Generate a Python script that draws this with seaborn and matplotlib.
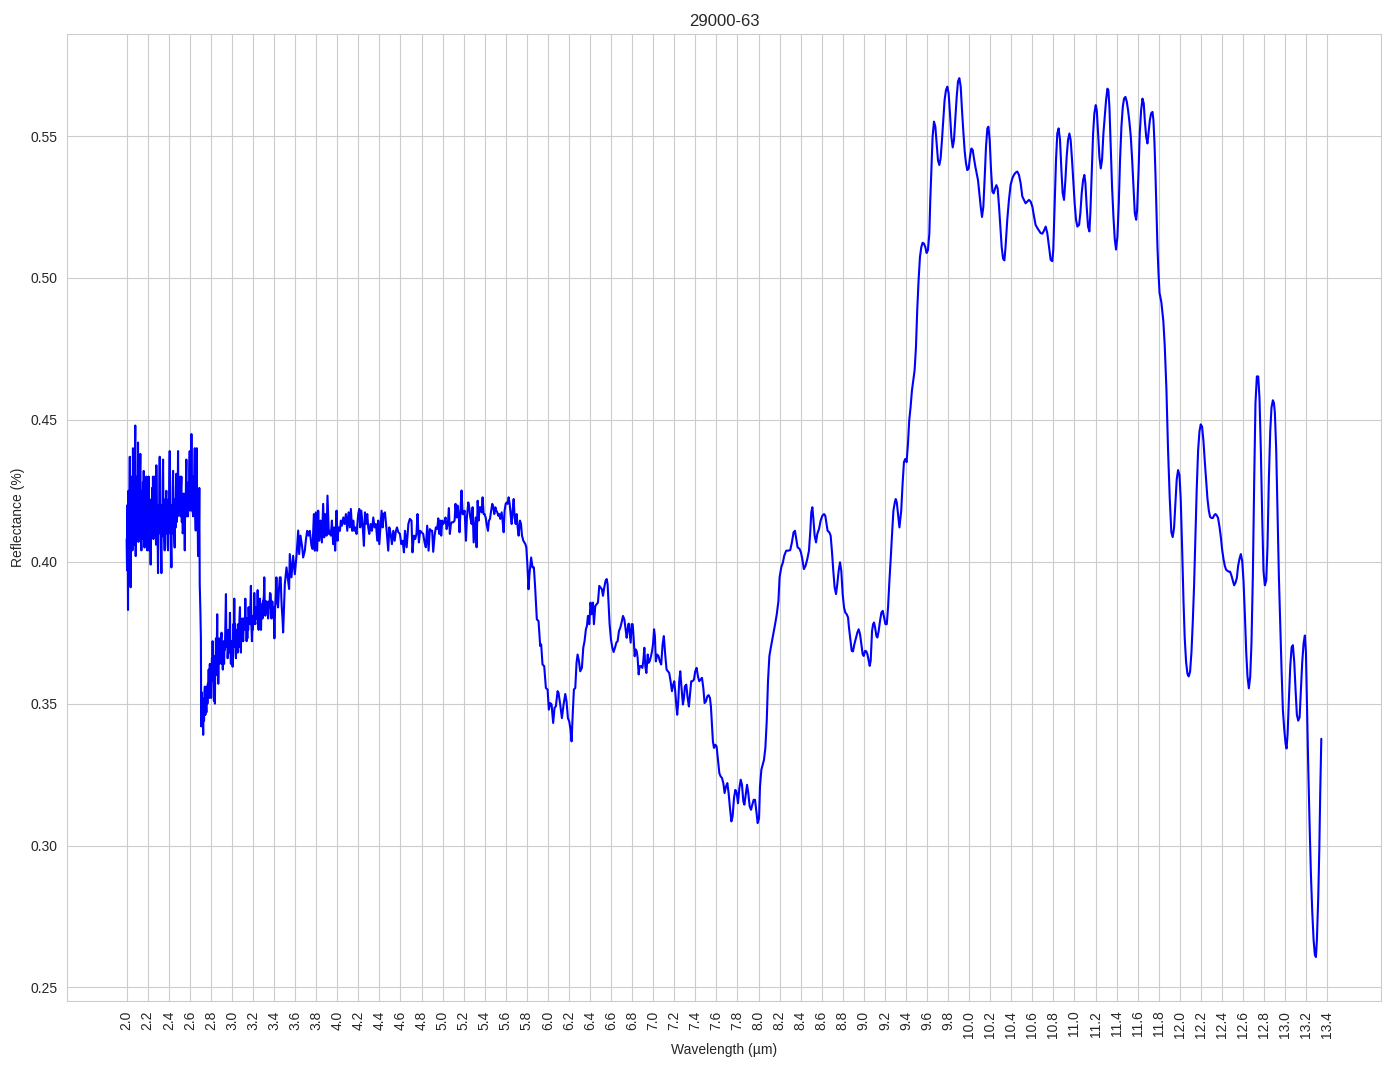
import numpy as np
import pandas as pd
import matplotlib
matplotlib.use("Agg")
import matplotlib.pyplot as plt
import seaborn as sns

# Spectrum 29000-63 in segments
# 2.0 - 2.7 um (noisy)
wl_a = [2.000, 2.004, 2.008, 2.013, 2.017, 2.021, 2.025, 2.030, 2.034, 2.038,
        2.042, 2.046, 2.050, 2.055, 2.060, 2.064, 2.068, 2.072, 2.077, 2.082,
        2.086, 2.090, 2.095, 2.100, 2.104, 2.108, 2.112, 2.117, 2.121, 2.126,
        2.130, 2.135, 2.140, 2.145, 2.150, 2.155, 2.159, 2.162, 2.166, 2.170,
        2.175, 2.180, 2.184, 2.187, 2.191, 2.196, 2.200, 2.205, 2.209, 2.214,
        2.219, 2.224, 2.228, 2.233, 2.237, 2.242, 2.246, 2.250, 2.254, 2.258,
        2.262, 2.266, 2.270, 2.275, 2.279, 2.282, 2.287, 2.291, 2.295, 2.298,
        2.303, 2.307, 2.311, 2.314, 2.318, 2.322, 2.326, 2.330, 2.334, 2.338,
        2.342, 2.346, 2.350, 2.354, 2.358, 2.361, 2.366, 2.370, 2.374, 2.377,
        2.381, 2.385, 2.389, 2.393, 2.397, 2.401, 2.405, 2.409, 2.413, 2.417,
        2.421, 2.425, 2.429, 2.433, 2.437, 2.441, 2.445, 2.449, 2.453, 2.456,
        2.460, 2.464, 2.468, 2.472, 2.476, 2.480, 2.484, 2.488, 2.492, 2.496,
        2.500, 2.504, 2.508, 2.512, 2.516, 2.520, 2.524, 2.528, 2.532, 2.536,
        2.540, 2.544, 2.548, 2.552, 2.556, 2.560, 2.564, 2.567, 2.571, 2.575,
        2.579, 2.583, 2.587, 2.591, 2.595, 2.599, 2.603, 2.607, 2.611, 2.615,
        2.619, 2.623, 2.627, 2.631, 2.635, 2.639, 2.643, 2.647, 2.651, 2.656,
        2.660, 2.663, 2.666, 2.669, 2.672, 2.675, 2.678, 2.682, 2.686, 2.690,
        2.694, 2.700, 2.705]
refl_a = [.408, .397, .420, .383, .425, .400, .418, .437, .405, .391,
          .430, .410, .428, .404, .440, .412, .426, .406, .432, .448,
          .402, .424, .410, .430, .412, .442, .407, .426, .409, .430,
          .438, .412, .404, .425, .408, .428, .410, .432, .412, .405,
          .424, .409, .427, .430, .410, .404, .423, .410, .430, .404,
          .420, .412, .399, .422, .410, .426, .412, .430, .408, .424,
          .410, .430, .414, .422, .406, .434, .410, .420, .404, .396,
          .420, .410, .428, .437, .412, .420, .405, .396, .420, .409,
          .428, .436, .412, .422, .408, .404, .420, .410, .422, .425,
          .410, .418, .406, .404, .422, .410, .428, .439, .412, .420,
          .406, .398, .420, .410, .426, .432, .412, .422, .408, .405,
          .420, .412, .426, .431, .414, .424, .416, .439, .418, .428,
          .420, .418, .430, .416, .426, .430, .414, .422, .410, .411,
          .424, .414, .420, .404, .424, .416, .430, .436, .416, .426,
          .418, .416, .428, .418, .432, .439, .420, .430, .418, .445,
          .420, .428, .418, .416, .430, .420, .432, .440, .418, .411,
          .428, .418, .440, .420, .425, .412, .402, .420, .410, .426,
          .392, .383, .373]

# 2.7 - 3.5 um (noisy, after the drop)
wl_b = [2.708, 2.712, 2.716, 2.720, 2.724, 2.727, 2.731, 2.735, 2.739, 2.743,
        2.747, 2.751, 2.755, 2.759, 2.763, 2.767, 2.771, 2.775, 2.779, 2.783,
        2.787, 2.790, 2.794, 2.798, 2.802, 2.806, 2.810, 2.813, 2.816, 2.820,
        2.824, 2.829, 2.833, 2.838, 2.842, 2.845, 2.848, 2.852, 2.856, 2.860,
        2.864, 2.867, 2.870, 2.874, 2.879, 2.883, 2.887, 2.892, 2.896, 2.901,
        2.905, 2.909, 2.913, 2.917, 2.921, 2.925, 2.929, 2.933, 2.938, 2.943,
        2.947, 2.951, 2.955, 2.959, 2.965, 2.969, 2.973, 2.977, 2.981, 2.985,
        2.990, 2.994, 2.998, 3.002, 3.006, 3.009, 3.012, 3.017, 3.022, 3.026,
        3.030, 3.034, 3.038, 3.042, 3.046, 3.050, 3.054, 3.058, 3.063, 3.067,
        3.071, 3.076, 3.080, 3.085, 3.089, 3.093, 3.098, 3.102, 3.107, 3.112,
        3.117, 3.122, 3.127, 3.131, 3.135, 3.139, 3.143, 3.146, 3.150, 3.154,
        3.158, 3.163, 3.167, 3.171, 3.176, 3.180, 3.184, 3.190, 3.194, 3.198,
        3.203, 3.207, 3.212, 3.217, 3.222, 3.226, 3.230, 3.234, 3.239, 3.244,
        3.248, 3.253, 3.257, 3.262, 3.266, 3.271, 3.276, 3.280, 3.285, 3.290,
        3.294, 3.298, 3.303, 3.307, 3.312, 3.317, 3.321, 3.325, 3.329, 3.334,
        3.339, 3.343, 3.348, 3.352, 3.356, 3.361, 3.368, 3.375, 3.383, 3.390,
        3.396, 3.403, 3.410, 3.416, 3.422, 3.430, 3.438, 3.446, 3.454, 3.463,
        3.468, 3.473, 3.480]
refl_b = [.342, .354, .345, .352, .343, .339, .350, .344, .354, .356,
          .346, .352, .347, .347, .356, .350, .357, .354, .362, .352,
          .360, .364, .355, .362, .352, .360, .366, .358, .372, .360,
          .367, .351, .362, .350, .366, .360, .373, .362, .370, .3815,
          .366, .372, .357, .368, .373, .364, .370, .366, .372, .375,
          .364, .370, .362, .367, .372, .364, .370, .369, .378, .3886,
          .370, .376, .374, .366, .370, .376, .368, .374, .382, .370,
          .364, .372, .366, .370, .363, .372, .378, .370, .387, .372,
          .378, .368, .366, .376, .370, .374, .368, .378, .378, .370,
          .380, .384, .372, .368, .378, .372, .380, .374, .372, .380,
          .378, .376, .387, .376, .380, .372, .378, .373, .380, .376,
          .384, .378, .382, .378, .386, .3915, .378, .372, .380, .376,
          .381, .378, .389, .380, .378, .384, .380, .384, .380, .390,
          .380, .376, .384, .380, .387, .380, .376, .384, .385, .380,
          .386, .386, .388, .3945, .384, .381, .386, .383, .386, .382,
          .384, .380, .382, .386, .384, .389, .3886, .380, .386, .3815,
          .384, .373, .384, .388, .3945, .386, .3839, .390, .3945, .3945,
          .388, .3839, .380]

# 3.5 - 5.8 um (plateau)
wl_c = [3.486, 3.502, 3.518, 3.533, 3.543, 3.549, 3.565, 3.581, 3.597, 3.613,
        3.629, 3.638, 3.651, 3.667, 3.676, 3.692, 3.701, 3.714, 3.727, 3.739,
        3.755, 3.765, 3.778, 3.787, 3.797, 3.809, 3.819, 3.828, 3.841, 3.854,
        3.866, 3.876, 3.885, 3.898, 3.907, 3.920, 3.930, 3.939, 3.949, 3.961,
        3.971, 3.980, 3.993, 4.003, 4.012, 4.025, 4.034, 4.044, 4.057, 4.069,
        4.082, 4.095, 4.107, 4.120, 4.129, 4.142, 4.152, 4.161, 4.171, 4.183,
        4.199, 4.209, 4.218, 4.228, 4.240, 4.253, 4.263, 4.272, 4.285, 4.294,
        4.304, 4.316, 4.329, 4.342, 4.354, 4.367, 4.380, 4.389, 4.399, 4.412,
        4.421, 4.431, 4.440, 4.453, 4.469, 4.484, 4.494, 4.507, 4.519, 4.532,
        4.545, 4.557, 4.567, 4.580, 4.595, 4.608, 4.621, 4.633, 4.643, 4.659,
        4.675, 4.689, 4.705, 4.714, 4.727, 4.740, 4.752, 4.762, 4.775, 4.787,
        4.800, 4.816, 4.829, 4.841, 4.854, 4.867, 4.879, 4.892, 4.901, 4.911,
        4.924, 4.936, 4.949, 4.959, 4.968, 4.978, 4.987, 4.997, 5.006, 5.016,
        5.028, 5.038, 5.050, 5.060, 5.069, 5.079, 5.088, 5.101, 5.114, 5.123,
        5.133, 5.142, 5.152, 5.161, 5.171, 5.180, 5.190, 5.199, 5.209, 5.222,
        5.231, 5.244, 5.253, 5.263, 5.276, 5.285, 5.295, 5.304, 5.314, 5.323,
        5.333, 5.342, 5.352, 5.361, 5.371, 5.380, 5.390, 5.399, 5.409, 5.418,
        5.431, 5.440, 5.450, 5.459, 5.472, 5.482, 5.491, 5.501, 5.510, 5.520,
        5.529, 5.539, 5.548, 5.561, 5.570, 5.580, 5.589, 5.599, 5.608, 5.618,
        5.627, 5.637, 5.646, 5.656, 5.665, 5.675, 5.684, 5.694, 5.703, 5.713,
        5.722, 5.735, 5.745, 5.754, 5.767, 5.776, 5.786, 5.795, 5.805]
refl_c = [.3751, .3921, .398, .3933, .3904, .4027, .3945, .4021, .3956, .4021,
          .411, .4027, .4092, .4051, .4015, .4039, .4074, .4109, .4092, .4109,
          .4056, .4045, .4168, .4039, .4174, .4039, .418, .4074, .4145, .4068,
          .4204, .4086, .4168, .4092, .4233, .4098, .4109, .4092, .4145, .4062,
          .4121, .4039, .418, .4074, .4121, .4109, .4145, .4127, .4156, .4133,
          .4168, .4109, .4174, .4121, .4186, .4109, .4145, .4109, .4121, .4098,
          .4168, .4186, .4121, .418, .4133, .4056, .4174, .4133, .4168, .4121,
          .4098, .4133, .4109, .4156, .4121, .4133, .4074, .4145, .4062, .4133,
          .418, .4121, .4168, .4174, .4109, .4039, .4121, .4098, .4062, .4109,
          .4074, .4109, .4121, .4104, .4098, .4062, .4074, .4033, .4109, .4051,
          .4133, .4151, .4145, .4033, .4092, .408, .4098, .4168, .4068, .4109,
          .4104, .4098, .4068, .4051, .4127, .4039, .4115, .4109, .4109, .4035,
          .4092, .4121, .4115, .4153, .4098, .4145, .4092, .4145, .4133, .4139,
          .4156, .4115, .4133, .4189, .4098, .4133, .4139, .4139, .4145, .4204,
          .4156, .4198, .4168, .4104, .4186, .4251, .4168, .4168, .418, .4074,
          .4156, .4209, .4192, .4156, .4133, .4192, .4068, .4109, .4156, .4051,
          .4215, .4145, .4192, .4192, .4174, .4227, .4168, .4168, .4156, .4133,
          .4109, .4145, .4151, .4174, .4204, .4192, .4168, .4192, .418, .4174,
          .4162, .4168, .4151, .4174, .4145, .4104, .418, .4204, .4209, .4204,
          .4227, .4204, .4168, .4133, .418, .4221, .4156, .4133, .4168, .4121,
          .4092, .4145, .4133, .4092, .4074, .4068, .4062, .4051, .3992]

# 5.8 - 8.2 um
wl_d = [5.816, 5.825, 5.841, 5.854, 5.867, 5.879, 5.895, 5.911, 5.927, 5.936,
        5.949, 5.965, 5.981, 5.997, 6.009, 6.022, 6.035, 6.050, 6.063, 6.076,
        6.092, 6.101, 6.117, 6.133, 6.149, 6.165, 6.177, 6.190, 6.203, 6.215,
        6.225, 6.234, 6.247, 6.260, 6.272, 6.282, 6.295, 6.307, 6.323, 6.336,
        6.348, 6.361, 6.371, 6.380, 6.393, 6.405, 6.415, 6.428, 6.437, 6.450,
        6.463, 6.475, 6.488, 6.501, 6.513, 6.523, 6.535, 6.548, 6.558, 6.567,
        6.577, 6.586, 6.599, 6.612, 6.624, 6.637, 6.650, 6.662, 6.675, 6.688,
        6.703, 6.713, 6.726, 6.738, 6.748, 6.757, 6.767, 6.776, 6.786, 6.795,
        6.805, 6.814, 6.824, 6.833, 6.843, 6.852, 6.862, 6.871, 6.884, 6.897,
        6.906, 6.916, 6.925, 6.935, 6.948, 6.957, 6.967, 6.976, 6.989, 6.998,
        7.008, 7.016, 7.025, 7.038, 7.051, 7.063, 7.076, 7.089, 7.101, 7.114,
        7.127, 7.139, 7.152, 7.165, 7.178, 7.190, 7.200, 7.209, 7.219, 7.228,
        7.238, 7.247, 7.257, 7.269, 7.282, 7.292, 7.301, 7.314, 7.327, 7.339,
        7.352, 7.361, 7.374, 7.387, 7.399, 7.412, 7.425, 7.437, 7.450, 7.463,
        7.476, 7.488, 7.501, 7.514, 7.526, 7.539, 7.548, 7.558, 7.567, 7.577,
        7.590, 7.602, 7.615, 7.628, 7.640, 7.653, 7.666, 7.678, 7.691, 7.704,
        7.716, 7.729, 7.742, 7.754, 7.767, 7.780, 7.793, 7.805, 7.818, 7.831,
        7.843, 7.856, 7.866, 7.878, 7.891, 7.903, 7.916, 7.929, 7.941, 7.954,
        7.967, 7.980, 7.992, 8.005, 8.014, 8.027, 8.040, 8.052, 8.065, 8.078,
        8.090, 8.103, 8.116, 8.128, 8.141, 8.157, 8.173, 8.189]
refl_d = [.3903, .3956, .4015, .398, .398, .3909, .3797, .3791, .3703, .3709,
          .3638, .3632, .3555, .355, .3479, .3502, .3497, .3432, .3485, .3491,
          .3544, .3538, .3497, .3449, .3497, .3534, .3508, .3449, .3437, .3408,
          .3367, .3449, .355, .3555, .3644, .3673, .365, .3614, .3626, .3697,
          .372, .3762, .3774, .3809, .378, .3856, .3815, .3856, .378, .3844,
          .385, .3856, .3915, .3909, .3903, .388, .3909, .3933, .3939, .3921,
          .385, .378, .3726, .3697, .3682, .3697, .3715, .372, .3756, .3768,
          .3791, .3809, .3797, .3762, .3732, .3762, .3782, .375, .3715, .378,
          .378, .3732, .3667, .3691, .3685, .3662, .3603, .3632, .3632, .3626,
          .365, .3697, .3632, .3608, .3673, .3644, .365, .3662, .3685, .3709,
          .3762, .3738, .3649, .3673, .3667, .3649, .3638, .3708, .3738, .3673,
          .362, .3614, .3608, .3579, .3544, .3567, .3579, .3544, .3496, .3461,
          .3508, .3579, .3614, .3555, .3497, .352, .3561, .3567, .352, .349,
          .3544, .3579, .3579, .3585, .3614, .3626, .3596, .3579, .3585, .3591,
          .3555, .3502, .3508, .3526, .353, .352, .349, .3426, .3367, .3344,
          .3355, .3349, .3302, .3255, .3244, .3238, .322, .3185, .3208, .322,
          .3185, .3132, .3085, .3102, .3167, .3196, .3185, .3149, .3202, .3232,
          .3214, .3155, .3144, .3179, .3214, .3185, .3138, .3126, .3144, .3161,
          .3161, .312, .3079, .3096, .3208, .3267, .3285, .3302, .3344, .3438,
          .3579, .3667, .3696, .372, .3744, .3779, .3814, .3861]

# 8.2 - 9.6 um
wl_e = [8.200, 8.216, 8.232, 8.244, 8.263, 8.282, 8.301, 8.317, 8.333, 8.346,
        8.359, 8.371, 8.390, 8.403, 8.416, 8.431, 8.447, 8.463, 8.479, 8.492,
        8.501, 8.511, 8.520, 8.533, 8.546, 8.558, 8.574, 8.590, 8.606, 8.622,
        8.634, 8.644, 8.656, 8.672, 8.685, 8.698, 8.710, 8.723, 8.736, 8.748,
        8.761, 8.774, 8.786, 8.799, 8.812, 8.824, 8.837, 8.850, 8.859, 8.872,
        8.885, 8.897, 8.910, 8.926, 8.939, 8.951, 8.964, 8.977, 8.989, 8.999,
        9.012, 9.024, 9.034, 9.046, 9.056, 9.065, 9.078, 9.088, 9.097, 9.107,
        9.119, 9.129, 9.141, 9.154, 9.167, 9.180, 9.192, 9.205, 9.218, 9.230,
        9.243, 9.256, 9.268, 9.281, 9.294, 9.303, 9.313, 9.325, 9.338,
        9.355, 9.368, 9.381, 9.393, 9.406, 9.419, 9.431, 9.444, 9.457, 9.469,
        9.482, 9.495, 9.507, 9.520, 9.533, 9.546, 9.558, 9.571, 9.584, 9.596]
refl_e = [.3945, .398, .3998, .4021, .4039, .4039, .4041, .4068, .4104, .4109,
          .408, .4051, .4045, .4033, .4009, .3974, .3986, .4009, .4039, .4109,
          .4174, .4192, .4156, .4092, .4068, .4098, .4115, .4145, .4162, .4168,
          .4162, .4139, .4109, .4104, .4092, .4033, .3968, .3909, .3886, .3921,
          .3968, .3998, .3968, .3886, .3839, .3821, .3815, .3804, .3768, .3727,
          .3686, .3684, .3709, .3733, .3751, .3762, .3745, .3709, .3674, .3668,
          .3686, .3684, .3674, .3651, .3633, .3651, .3756, .378, .3786, .3768,
          .3739, .3733, .3756, .3792, .3821, .3827, .3804, .378, .378, .3839,
          .3933, .4015, .4098, .418, .4209, .4221, .4209, .4168, .4121,
          .418, .4274, .4351, .4362, .4351, .4415, .4498, .4545, .4604, .4639,
          .4674, .4756, .4886, .4992, .5074, .5109, .5124, .5121, .5109, .5088]

# 9.6 - 11.8 um (high plateau)
wl_f = [9.609, 9.622, 9.631, 9.641, 9.653, 9.666, 9.679, 9.691, 9.704, 9.717,
        9.729, 9.742, 9.755, 9.767, 9.780, 9.793, 9.805, 9.818, 9.831, 9.844,
        9.856, 9.869, 9.882, 9.894, 9.907, 9.920, 9.932, 9.945, 9.958, 9.970,
        9.983, 9.996, 10.008, 10.021, 10.034, 10.046, 10.059, 10.072, 10.084, 10.097,
        10.110, 10.122, 10.135, 10.148, 10.160, 10.173, 10.183, 10.195, 10.208, 10.221,
        10.233, 10.246, 10.259, 10.271, 10.284, 10.297, 10.309, 10.322, 10.335, 10.346,
        10.362, 10.378, 10.394, 10.410, 10.425, 10.441, 10.457, 10.473, 10.489, 10.505,
        10.520, 10.536, 10.552, 10.568, 10.584, 10.600, 10.616, 10.631, 10.647, 10.663,
        10.679, 10.695, 10.711, 10.727, 10.742, 10.758, 10.774, 10.790, 10.799, 10.812,
        10.825, 10.837, 10.850, 10.863, 10.876, 10.888, 10.901, 10.914, 10.926, 10.939,
        10.952, 10.964, 10.977, 10.990, 11.002, 11.015, 11.028, 11.044, 11.056, 11.069,
        11.082, 11.094, 11.104, 11.116, 11.129, 11.142, 11.151, 11.164, 11.177, 11.189,
        11.202, 11.212, 11.224, 11.237, 11.250, 11.262, 11.275, 11.288, 11.300, 11.313,
        11.322, 11.332, 11.345, 11.357, 11.370, 11.383, 11.395, 11.408, 11.421, 11.433,
        11.446, 11.459, 11.471, 11.484, 11.497, 11.509, 11.522, 11.535, 11.548, 11.560,
        11.573, 11.586, 11.595, 11.608, 11.620, 11.633, 11.646, 11.658, 11.668, 11.681,
        11.693, 11.703, 11.716, 11.728, 11.741, 11.750, 11.760, 11.769, 11.779, 11.788,
        11.798]
refl_f = [.5098, .5156, .5274, .538, .5498, .5551, .5533, .5474, .5415, .5398,
          .5421, .5486, .5562, .5627, .5662, .5674, .5651, .558, .5498, .546,
          .5486, .5562, .5639, .5692, .5704, .5674, .5592, .5515, .5445, .5404,
          .538, .5386, .5427, .5456, .5451, .5421, .5392, .5368, .5345, .5298,
          .5251, .5215, .5251, .5356, .5462, .5527, .5533, .5486, .538, .5304,
          .5298, .5315, .5327, .5315, .5251, .518, .5109, .5068, .5062, .5111,
          .5205, .5275, .5328, .5351, .5363, .5371, .5375, .5363, .5334, .5287,
          .5275, .5263, .5269, .5275, .5269, .5252, .5217, .5187, .5176, .5167,
          .5158, .5156, .5167, .5181, .5158, .5111, .5064, .5059, .51, .5263,
          .5416, .5509, .5527, .5486, .5381, .5299, .5275, .5345, .5427, .5486,
          .5509, .5486, .5416, .5334, .5263, .5205, .5181, .5187, .5228, .5299,
          .5345, .5363, .5334, .5252, .5181, .5164, .5228, .5369, .5509, .558,
          .5609, .5591, .5509, .5427, .5386, .5416, .5509, .5568, .5626, .5667,
          .5662, .5603, .5451, .5322, .5217, .5135, .51, .5146, .5263, .5416,
          .5533, .5603, .5632, .5638, .5621, .5591, .555, .5498, .5416, .5322,
          .5228, .5205, .524, .5369, .5509, .5591, .5632, .5615, .5556, .5498,
          .5474, .5509, .5556, .558, .5585, .5556, .5474, .5369, .524, .5111,
          .5018]

# 11.8 - 13.35 um
wl_g = [11.808, 11.825, 11.844, 11.857, 11.873, 11.889, 11.905, 11.920, 11.933, 11.946,
        11.959, 11.971, 11.984, 11.997, 12.009, 12.022, 12.035, 12.047, 12.060, 12.073,
        12.085, 12.098, 12.111, 12.123, 12.136, 12.149, 12.161, 12.174, 12.187, 12.199,
        12.212, 12.225, 12.237, 12.250, 12.263, 12.276, 12.288, 12.301, 12.314, 12.326,
        12.339, 12.352, 12.364, 12.377, 12.390, 12.402, 12.415, 12.428, 12.440, 12.453,
        12.466, 12.478, 12.491, 12.504, 12.516, 12.529, 12.542, 12.554, 12.567, 12.580,
        12.593, 12.605, 12.618, 12.631, 12.643, 12.656, 12.669, 12.681, 12.694, 12.707,
        12.719, 12.732, 12.745, 12.757, 12.770, 12.783, 12.795, 12.808, 12.821, 12.833,
        12.846, 12.859, 12.871, 12.884, 12.894, 12.903, 12.916, 12.929, 12.941, 12.954,
        12.967, 12.979, 12.992, 13.005, 13.014, 13.024, 13.036, 13.049, 13.062, 13.074,
        13.087, 13.100, 13.112, 13.125, 13.138, 13.150, 13.163, 13.176, 13.188, 13.198,
        13.207, 13.220, 13.233, 13.245, 13.258, 13.271, 13.283, 13.293, 13.302, 13.315,
        13.325, 13.334, 13.344]
refl_g = [.4947, .4915, .4848, .4763, .4611, .4391, .4222, .4104, .4087, .412,
          .4205, .429, .4323, .4306, .4222, .4053, .3867, .3731, .3647, .3605,
          .3596, .3613, .3681, .3782, .3917, .4087, .4256, .4391, .4459, .4484,
          .4476, .4425, .4357, .429, .4222, .418, .4158, .4154, .4154, .4163,
          .4168, .4163, .4154, .4124, .4087, .4044, .401, .3985, .3972, .3968,
          .3965, .3965, .3951, .3934, .3917, .3926, .3943, .3985, .401, .4027,
          .4002, .3934, .3816, .3681, .3596, .3554, .3596, .3714, .3951, .429,
          .456, .4653, .4653, .4577, .4391, .4154, .3968, .3917, .3934, .4053,
          .429, .4459, .4543, .4569, .456, .4526, .4391, .4171, .3951, .3782,
          .3613, .3478, .341, .3359, .3342, .3393, .3512, .363, .3698, .3706,
          .3647, .3545, .3461, .344, .3452, .3545, .3647, .3714, .374, .3681,
          .3512, .3275, .3072, .2903, .2767, .2666, .2615, .2607, .2666, .2818,
          .2987, .319, .3376]

x_ticks = [2.0, 2.2, 2.4, 2.6, 2.8, 3.0, 3.2, 3.4, 3.6, 3.8, 4.0, 4.2, 4.4, 4.6,
           4.8, 5.0, 5.2, 5.4, 5.6, 5.8, 6.0, 6.2, 6.4, 6.6, 6.8, 7.0, 7.2, 7.4,
           7.6, 7.8, 8.0, 8.2, 8.4, 8.6, 8.8, 9.0, 9.2, 9.4, 9.6, 9.8, 10.0, 10.2,
           10.4, 10.6, 10.8, 11.0, 11.2, 11.4, 11.6, 11.8, 12.0, 12.2, 12.4, 12.6,
           12.8, 13.0, 13.2, 13.4]
y_ticks = [0.25, 0.30, 0.35, 0.40, 0.45, 0.50, 0.55]

segments = [(wl_a, refl_a), (wl_b, refl_b), (wl_c, refl_c), (wl_d, refl_d),
            (wl_e, refl_e), (wl_f, refl_f), (wl_g, refl_g)]
for w, r in segments:
    assert len(w) == len(r), (w[0], len(w), len(r))

df = pd.DataFrame({
    'Wavelength': np.concatenate([w for w, _ in segments]),
    'Reflectance': np.concatenate([r for _, r in segments]),
})

sns.set_style('whitegrid')
plt.rcParams['font.family'] = ['Liberation Sans', 'DejaVu Sans']

fig, ax = plt.subplots(figsize=(13.94, 10.69), dpi=100)
fig.subplots_adjust(left=0.048, right=0.9907, top=0.968, bottom=0.0636)

sns.lineplot(data=df, x='Wavelength', y='Reflectance', color='blue',
             linewidth=1.5, estimator=None, sort=False, ax=ax)

ax.set_xticks(x_ticks)
ax.set_xticklabels([f'{t:.1f}' for t in x_ticks], rotation=90)
ax.set_yticks(y_ticks)
ax.set_yticklabels([f'{t:.2f}' for t in y_ticks])
ax.set_xlabel('Wavelength (µm)')
ax.set_ylabel('Reflectance (%)')
ax.set_title('29000-63')

fig.savefig('out.png', dpi=100)
